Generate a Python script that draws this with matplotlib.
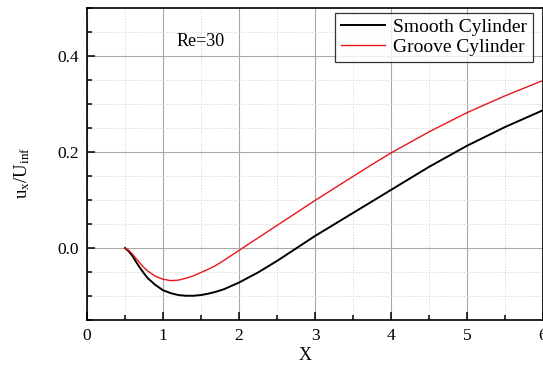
import matplotlib
matplotlib.use("Agg")
import matplotlib.pyplot as plt
from matplotlib.ticker import MultipleLocator, FormatStrFormatter

plt.rcParams["font.family"] = ["Liberation Serif", "DejaVu Serif"]
plt.rcParams["mathtext.fontset"] = "custom"
plt.rcParams["mathtext.rm"] = "Liberation Serif"
plt.rcParams["mathtext.it"] = "Liberation Serif:italic"

# Streamwise velocity along the wake centreline, Re = 30
x_smooth = [0.5, 0.55, 0.6, 0.65, 0.7, 0.75, 0.8, 0.9, 1.0, 1.1, 1.2, 1.3,
            1.4, 1.5, 1.6, 1.7, 1.8, 1.9, 2.0, 2.25, 2.5, 2.75, 3.0, 3.25,
            3.5, 3.75, 4.0, 4.5, 5.0, 5.5, 6.0]
u_smooth = [0.0, -0.007, -0.017, -0.030, -0.042, -0.053, -0.063, -0.077,
            -0.088, -0.094, -0.098, -0.0995, -0.0995, -0.098, -0.095, -0.091,
            -0.086, -0.079, -0.072, -0.051, -0.027, -0.001, 0.025, 0.049,
            0.073, 0.097, 0.121, 0.169, 0.213, 0.252, 0.287]

x_groove = [0.5, 0.55, 0.6, 0.65, 0.7, 0.75, 0.8, 0.9, 1.0, 1.1, 1.2, 1.3,
            1.4, 1.5, 1.6, 1.7, 1.8, 1.9, 2.0, 2.25, 2.5, 2.75, 3.0, 3.25,
            3.5, 3.75, 4.0, 4.5, 5.0, 5.5, 6.0]
u_groove = [0.0, -0.005, -0.013, -0.023, -0.032, -0.041, -0.048, -0.059,
            -0.065, -0.068, -0.067, -0.063, -0.058, -0.051, -0.044, -0.036,
            -0.026, -0.0155, -0.005, 0.021, 0.047, 0.073, 0.099, 0.124,
            0.149, 0.174, 0.198, 0.242, 0.282, 0.317, 0.349]

series_labels = ["Smooth Cylinder", "Groove Cylinder"]
annotation = "Re=30"

W, H = 543, 365
fig = plt.figure(figsize=(W / 100, H / 100), dpi=100)
ax = fig.add_axes([87 / W, (H - 320) / H, 456 / W, 312 / H])

ax.plot(x_smooth, u_smooth, color="black", lw=1.4, label=series_labels[0])
ax.plot(x_groove, u_groove, color="#e8161b", lw=1.0, label=series_labels[1])

ax.set_xlim(0, 6)
ax.set_ylim(-0.15, 0.5)

ax.xaxis.set_major_locator(MultipleLocator(1))
ax.xaxis.set_minor_locator(MultipleLocator(0.5))
ax.yaxis.set_major_locator(MultipleLocator(0.2))
ax.yaxis.set_minor_locator(MultipleLocator(0.05))
ax.yaxis.set_major_formatter(FormatStrFormatter("%.1f"))

ax.grid(which="major", color="#a8a8a8", lw=0.8, ls="-")
ax.grid(which="minor", color="#d0d0d0", lw=0.6, ls=(0, (1.5, 2)))
ax.set_axisbelow(True)

ax.tick_params(which="both", direction="in", top=False, right=False,
               labelsize=12.5, pad=6, width=1.1)
ax.tick_params(which="major", length=6)
ax.tick_params(which="minor", length=3.5)

for s in ax.spines.values():
    s.set_linewidth(1.2)

ax.set_xlabel("X", fontsize=13)
ax.xaxis.set_label_coords((305 - 87) / 456, -0.088)
ax.set_ylabel(r"u$_\mathrm{x}$/U$_\mathrm{inf}$", fontsize=13.5)
ax.yaxis.set_label_coords(-0.12, 0.47)

ax.text(1.5, 0.43, annotation, fontsize=13, ha="center", va="center")

leg = ax.legend(loc="upper right", bbox_to_anchor=((533 - 87) / 456, (320 - 12.7) / 312),
                borderaxespad=0, fontsize=14, frameon=True, fancybox=False,
                edgecolor="black", handlelength=2.3, handletextpad=0.4,
                labelspacing=0.1, borderpad=0.3)
leg.get_frame().set_linewidth(0.9)

fig.savefig("out.png", dpi=100)
